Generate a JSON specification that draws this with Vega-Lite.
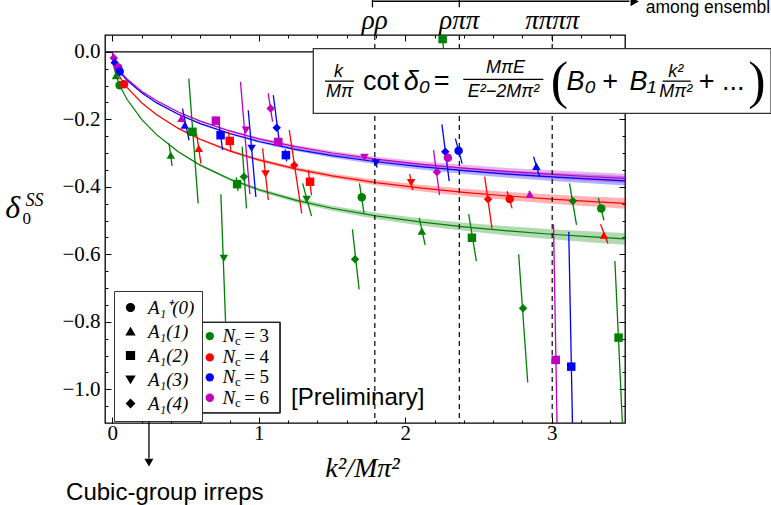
{
  "$schema": "https://vega.github.io/schema/vega-lite/v6.json",
  "width": 520,
  "height": 388,
  "autosize": "none",
  "padding": {"left": 105, "top": 35, "right": 146, "bottom": 82},
  "background": "white",
  "config": {
    "view": {"stroke": "black", "strokeWidth": 1.3},
    "axis": {"grid": false, "domain": false, "tickColor": "black", "tickWidth": 1, "labelColor": "black"}
  },
  "datasets": {
    "pts": [
      {"Nc":6,"irrep":"A₁(4)","x":0.01,"y":-0.018,"xa":0.008,"ya":-0.01,"xb":0.012,"yb":-0.026},
      {"Nc":5,"irrep":"A₁(4)","x":0.016,"y":-0.032,"xa":0.013,"ya":-0.022,"xb":0.019,"yb":-0.042},
      {"Nc":6,"irrep":"A₁⁺(0)","x":0.04,"y":-0.046,"xa":0.038,"ya":-0.04,"xb":0.042,"yb":-0.052},
      {"Nc":5,"irrep":"A₁⁺(0)","x":0.05,"y":-0.058,"xa":0.048,"ya":-0.052,"xb":0.052,"yb":-0.064},
      {"Nc":3,"irrep":"A₁(1)","x":0.025,"y":-0.07,"xa":0.022,"ya":-0.06,"xb":0.028,"yb":-0.08},
      {"Nc":3,"irrep":"A₁⁺(0)","x":0.05,"y":-0.099,"xa":0.048,"ya":-0.093,"xb":0.052,"yb":-0.105},
      {"Nc":4,"irrep":"A₁⁺(0)","x":0.08,"y":-0.096,"xa":0.078,"ya":-0.09,"xb":0.082,"yb":-0.102},
      {"Nc":6,"irrep":"A₁(1)","x":0.472,"y":-0.197,"xa":0.465,"ya":-0.185,"xb":0.479,"yb":-0.209},
      {"Nc":5,"irrep":"A₁(1)","x":0.495,"y":-0.217,"xa":0.479,"ya":-0.168,"xb":0.524,"yb":-0.262},
      {"Nc":3,"irrep":"A₁(2)","x":0.547,"y":-0.237,"xa":0.522,"ya":-0.079,"xb":0.586,"yb":-0.449},
      {"Nc":4,"irrep":"A₁(1)","x":0.59,"y":-0.286,"xa":0.575,"ya":-0.242,"xb":0.605,"yb":-0.331},
      {"Nc":3,"irrep":"A₁(1)","x":0.399,"y":-0.306,"xa":0.387,"ya":-0.271,"xb":0.408,"yb":-0.338},
      {"Nc":6,"irrep":"A₁(2)","x":0.707,"y":-0.204,"xa":0.702,"ya":-0.192,"xb":0.712,"yb":-0.216},
      {"Nc":5,"irrep":"A₁(2)","x":0.739,"y":-0.247,"xa":0.728,"ya":-0.212,"xb":0.753,"yb":-0.291},
      {"Nc":4,"irrep":"A₁(2)","x":0.802,"y":-0.264,"xa":0.793,"ya":-0.237,"xb":0.811,"yb":-0.296},
      {"Nc":3,"irrep":"A₁(2)","x":0.852,"y":-0.392,"xa":0.846,"ya":-0.372,"xb":0.858,"yb":-0.412},
      {"Nc":3,"irrep":"A₁(4)","x":0.898,"y":-0.37,"xa":0.886,"ya":-0.281,"xb":0.916,"yb":-0.464},
      {"Nc":3,"irrep":"A₁(3)","x":0.761,"y":-0.612,"xa":0.741,"ya":-0.422,"xb":0.773,"yb":-0.8},
      {"Nc":6,"irrep":"A₁(3)","x":0.912,"y":-0.232,"xa":0.875,"ya":-0.089,"xb":0.939,"yb":-0.422},
      {"Nc":5,"irrep":"A₁(3)","x":0.951,"y":-0.286,"xa":0.928,"ya":-0.173,"xb":0.98,"yb":-0.43},
      {"Nc":4,"irrep":"A₁(3)","x":1.046,"y":-0.362,"xa":1.026,"ya":-0.286,"xb":1.065,"yb":-0.439},
      {"Nc":6,"irrep":"A₁(4)","x":1.081,"y":-0.168,"xa":1.064,"ya":-0.123,"xb":1.094,"yb":-0.207},
      {"Nc":5,"irrep":"A₁(4)","x":1.122,"y":-0.225,"xa":1.099,"ya":-0.128,"xb":1.14,"yb":-0.267},
      {"Nc":6,"irrep":"A₁(2)","x":1.133,"y":-0.267,"xa":1.128,"ya":-0.255,"xb":1.138,"yb":-0.279},
      {"Nc":5,"irrep":"A₁(2)","x":1.185,"y":-0.306,"xa":1.18,"ya":-0.289,"xb":1.19,"yb":-0.325},
      {"Nc":4,"irrep":"A₁(4)","x":1.242,"y":-0.336,"xa":1.208,"ya":-0.232,"xb":1.293,"yb":-0.479},
      {"Nc":3,"irrep":"A₁(3)","x":1.327,"y":-0.437,"xa":1.299,"ya":-0.39,"xb":1.36,"yb":-0.487},
      {"Nc":4,"irrep":"A₁(2)","x":1.35,"y":-0.385,"xa":1.338,"ya":-0.351,"xb":1.36,"yb":-0.425},
      {"Nc":6,"irrep":"A₁(3)","x":1.721,"y":-0.313,"xa":1.716,"ya":-0.303,"xb":1.726,"yb":-0.323},
      {"Nc":5,"irrep":"A₁(3)","x":1.8,"y":-0.329,"xa":1.793,"ya":-0.315,"xb":1.807,"yb":-0.343},
      {"Nc":3,"irrep":"A₁⁺(0)","x":1.703,"y":-0.431,"xa":1.687,"ya":-0.39,"xb":1.718,"yb":-0.477},
      {"Nc":3,"irrep":"A₁(4)","x":1.657,"y":-0.615,"xa":1.639,"ya":-0.526,"xb":1.685,"yb":-0.704},
      {"Nc":4,"irrep":"A₁(3)","x":2.04,"y":-0.388,"xa":2.03,"ya":-0.362,"xb":2.05,"yb":-0.41},
      {"Nc":6,"irrep":"A₁(4)","x":2.216,"y":-0.356,"xa":2.193,"ya":-0.291,"xb":2.234,"yb":-0.425},
      {"Nc":5,"irrep":"A₁(4)","x":2.273,"y":-0.296,"xa":2.25,"ya":-0.215,"xb":2.3,"yb":-0.383},
      {"Nc":6,"irrep":"A₁⁺(0)","x":2.291,"y":-0.314,"xa":2.287,"ya":-0.304,"xb":2.295,"yb":-0.324},
      {"Nc":3,"irrep":"A₁(2)","x":2.255,"y":0.038,"xa":2.245,"ya":0.1,"xb":2.268,"yb":-0.03},
      {"Nc":5,"irrep":"A₁⁺(0)","x":2.364,"y":-0.293,"xa":2.342,"ya":-0.257,"xb":2.388,"yb":-0.331},
      {"Nc":5,"irrep":"A₁(1)","x":2.895,"y":-0.339,"xa":2.876,"ya":-0.311,"xb":2.917,"yb":-0.37},
      {"Nc":4,"irrep":"A₁(4)","x":2.565,"y":-0.437,"xa":2.542,"ya":-0.37,"xb":2.592,"yb":-0.523},
      {"Nc":4,"irrep":"A₁⁺(0)","x":2.713,"y":-0.436,"xa":2.695,"ya":-0.413,"xb":2.729,"yb":-0.464},
      {"Nc":6,"irrep":"A₁(1)","x":2.85,"y":-0.422,"xa":2.846,"ya":-0.412,"xb":2.854,"yb":-0.432},
      {"Nc":3,"irrep":"A₁(4)","x":3.144,"y":-0.442,"xa":3.121,"ya":-0.39,"xb":3.169,"yb":-0.513},
      {"Nc":3,"irrep":"A₁⁺(0)","x":3.338,"y":-0.464,"xa":3.318,"ya":-0.433,"xb":3.356,"yb":-0.499},
      {"Nc":3,"irrep":"A₁(2)","x":2.455,"y":-0.551,"xa":2.433,"ya":-0.481,"xb":2.485,"yb":-0.62},
      {"Nc":4,"irrep":"A₁(1)","x":3.356,"y":-0.543,"xa":3.333,"ya":-0.511,"xb":3.383,"yb":-0.568},
      {"Nc":3,"irrep":"A₁(1)","x":2.113,"y":-0.531,"xa":2.095,"ya":-0.492,"xb":2.136,"yb":-0.573},
      {"Nc":3,"irrep":"A₁(4)","x":2.804,"y":-0.76,"xa":2.774,"ya":-0.6,"xb":2.836,"yb":-0.98},
      {"Nc":6,"irrep":"A₁(2)","x":3.027,"y":-0.913,"xa":3.012,"ya":-0.511,"xb":3.045,"yb":-1.32},
      {"Nc":5,"irrep":"A₁(2)","x":3.133,"y":-0.933,"xa":3.116,"ya":-0.533,"xb":3.152,"yb":-1.34},
      {"Nc":3,"irrep":"A₁(2)","x":3.456,"y":-0.847,"xa":3.431,"ya":-0.62,"xb":3.482,"yb":-1.1}
    ],
    "fit": [
      {"Nc":3,"x":0,"y":0,"lo":0,"hi":0},
      {"Nc":3,"x":0.01,"y":-0.0436,"lo":-0.0437,"hi":-0.0435},
      {"Nc":3,"x":0.03,"y":-0.0759,"lo":-0.0761,"hi":-0.0757},
      {"Nc":3,"x":0.06,"y":-0.1081,"lo":-0.1084,"hi":-0.1078},
      {"Nc":3,"x":0.1,"y":-0.1404,"lo":-0.1409,"hi":-0.1399},
      {"Nc":3,"x":0.2,"y":-0.2,"lo":-0.201,"hi":-0.199},
      {"Nc":3,"x":0.3,"y":-0.2445,"lo":-0.246,"hi":-0.243},
      {"Nc":3,"x":0.45,"y":-0.296,"lo":-0.2983,"hi":-0.2937},
      {"Nc":3,"x":0.6,"y":-0.3358,"lo":-0.3388,"hi":-0.3328},
      {"Nc":3,"x":0.8,"y":-0.3769,"lo":-0.3809,"hi":-0.3729},
      {"Nc":3,"x":1.0,"y":-0.4086,"lo":-0.4136,"hi":-0.4036},
      {"Nc":3,"x":1.25,"y":-0.4393,"lo":-0.4456,"hi":-0.433},
      {"Nc":3,"x":1.5,"y":-0.4634,"lo":-0.4709,"hi":-0.4559},
      {"Nc":3,"x":1.8,"y":-0.4861,"lo":-0.4951,"hi":-0.4771},
      {"Nc":3,"x":2.1,"y":-0.5039,"lo":-0.5144,"hi":-0.4934},
      {"Nc":3,"x":2.4,"y":-0.5185,"lo":-0.5305,"hi":-0.5065},
      {"Nc":3,"x":2.7,"y":-0.5305,"lo":-0.544,"hi":-0.517},
      {"Nc":3,"x":3.0,"y":-0.5405,"lo":-0.5555,"hi":-0.5255},
      {"Nc":3,"x":3.25,"y":-0.5478,"lo":-0.564,"hi":-0.5316},
      {"Nc":3,"x":3.5,"y":-0.5542,"lo":-0.5717,"hi":-0.5367},
      {"Nc":4,"x":0,"y":0,"lo":0,"hi":0},
      {"Nc":4,"x":0.01,"y":-0.0324,"lo":-0.0325,"hi":-0.0323},
      {"Nc":4,"x":0.03,"y":-0.0565,"lo":-0.0566,"hi":-0.0564},
      {"Nc":4,"x":0.06,"y":-0.0806,"lo":-0.0809,"hi":-0.0803},
      {"Nc":4,"x":0.1,"y":-0.1051,"lo":-0.1056,"hi":-0.1047},
      {"Nc":4,"x":0.2,"y":-0.1509,"lo":-0.1518,"hi":-0.15},
      {"Nc":4,"x":0.3,"y":-0.1857,"lo":-0.1871,"hi":-0.1844},
      {"Nc":4,"x":0.45,"y":-0.2268,"lo":-0.2288,"hi":-0.2248},
      {"Nc":4,"x":0.6,"y":-0.2592,"lo":-0.2619,"hi":-0.2565},
      {"Nc":4,"x":0.8,"y":-0.2933,"lo":-0.2969,"hi":-0.2897},
      {"Nc":4,"x":1.0,"y":-0.3201,"lo":-0.3246,"hi":-0.3156},
      {"Nc":4,"x":1.25,"y":-0.3466,"lo":-0.3522,"hi":-0.341},
      {"Nc":4,"x":1.5,"y":-0.3674,"lo":-0.3742,"hi":-0.3607},
      {"Nc":4,"x":1.8,"y":-0.3874,"lo":-0.3955,"hi":-0.3793},
      {"Nc":4,"x":2.1,"y":-0.4033,"lo":-0.4128,"hi":-0.3939},
      {"Nc":4,"x":2.4,"y":-0.4163,"lo":-0.4271,"hi":-0.4055},
      {"Nc":4,"x":2.7,"y":-0.4272,"lo":-0.4394,"hi":-0.4151},
      {"Nc":4,"x":3.0,"y":-0.4364,"lo":-0.4499,"hi":-0.4229},
      {"Nc":4,"x":3.25,"y":-0.443,"lo":-0.4576,"hi":-0.4284},
      {"Nc":4,"x":3.5,"y":-0.4489,"lo":-0.4647,"hi":-0.4332},
      {"Nc":5,"x":0,"y":0,"lo":0,"hi":0},
      {"Nc":5,"x":0.01,"y":-0.0258,"lo":-0.0259,"hi":-0.0257},
      {"Nc":5,"x":0.03,"y":-0.045,"lo":-0.0451,"hi":-0.0449},
      {"Nc":5,"x":0.06,"y":-0.0643,"lo":-0.0645,"hi":-0.0641},
      {"Nc":5,"x":0.1,"y":-0.0841,"lo":-0.0845,"hi":-0.0837},
      {"Nc":5,"x":0.2,"y":-0.1215,"lo":-0.1223,"hi":-0.1207},
      {"Nc":5,"x":0.3,"y":-0.1505,"lo":-0.1517,"hi":-0.1493},
      {"Nc":5,"x":0.45,"y":-0.1851,"lo":-0.1869,"hi":-0.1833},
      {"Nc":5,"x":0.6,"y":-0.2126,"lo":-0.215,"hi":-0.2102},
      {"Nc":5,"x":0.8,"y":-0.242,"lo":-0.2452,"hi":-0.2388},
      {"Nc":5,"x":1.0,"y":-0.2656,"lo":-0.2696,"hi":-0.2616},
      {"Nc":5,"x":1.25,"y":-0.289,"lo":-0.294,"hi":-0.284},
      {"Nc":5,"x":1.5,"y":-0.3077,"lo":-0.3137,"hi":-0.3017},
      {"Nc":5,"x":1.8,"y":-0.3257,"lo":-0.3329,"hi":-0.3185},
      {"Nc":5,"x":2.1,"y":-0.3402,"lo":-0.3486,"hi":-0.3318},
      {"Nc":5,"x":2.4,"y":-0.3522,"lo":-0.3618,"hi":-0.3426},
      {"Nc":5,"x":2.7,"y":-0.3622,"lo":-0.373,"hi":-0.3514},
      {"Nc":5,"x":3.0,"y":-0.3706,"lo":-0.3826,"hi":-0.3586},
      {"Nc":5,"x":3.25,"y":-0.3767,"lo":-0.3897,"hi":-0.3637},
      {"Nc":5,"x":3.5,"y":-0.3821,"lo":-0.3961,"hi":-0.3681},
      {"Nc":6,"x":0,"y":0,"lo":0,"hi":0},
      {"Nc":6,"x":0.01,"y":-0.0245,"lo":-0.0246,"hi":-0.0244},
      {"Nc":6,"x":0.03,"y":-0.0429,"lo":-0.043,"hi":-0.0428},
      {"Nc":6,"x":0.06,"y":-0.0613,"lo":-0.0615,"hi":-0.0611},
      {"Nc":6,"x":0.1,"y":-0.0803,"lo":-0.0807,"hi":-0.0799},
      {"Nc":6,"x":0.2,"y":-0.1164,"lo":-0.1172,"hi":-0.1156},
      {"Nc":6,"x":0.3,"y":-0.1444,"lo":-0.1456,"hi":-0.1432},
      {"Nc":6,"x":0.45,"y":-0.1782,"lo":-0.18,"hi":-0.1764},
      {"Nc":6,"x":0.6,"y":-0.2053,"lo":-0.2077,"hi":-0.2029},
      {"Nc":6,"x":0.8,"y":-0.2344,"lo":-0.2376,"hi":-0.2312},
      {"Nc":6,"x":1.0,"y":-0.2577,"lo":-0.2617,"hi":-0.2537},
      {"Nc":6,"x":1.25,"y":-0.2811,"lo":-0.2861,"hi":-0.2761},
      {"Nc":6,"x":1.5,"y":-0.2998,"lo":-0.3058,"hi":-0.2938},
      {"Nc":6,"x":1.8,"y":-0.3178,"lo":-0.325,"hi":-0.3106},
      {"Nc":6,"x":2.1,"y":-0.3325,"lo":-0.3409,"hi":-0.3241},
      {"Nc":6,"x":2.4,"y":-0.3445,"lo":-0.3541,"hi":-0.3349},
      {"Nc":6,"x":2.7,"y":-0.3547,"lo":-0.3655,"hi":-0.3439},
      {"Nc":6,"x":3.0,"y":-0.3632,"lo":-0.3752,"hi":-0.3512},
      {"Nc":6,"x":3.25,"y":-0.3694,"lo":-0.3824,"hi":-0.3564},
      {"Nc":6,"x":3.5,"y":-0.3749,"lo":-0.3889,"hi":-0.3609}
    ],
    "thr": [
      {"x": 1.792, "ly": 0.091, "lab": "ρρ"},
      {"x": 2.369, "ly": 0.091, "lab": "ρππ"},
      {"x": 3.003, "ly": 0.091, "lab": "ππππ"}
    ],
    "nclegend": [
      {"Nc": 3, "x": 0.6655, "y": -0.8424, "xn": 0.7524, "xc": 0.838, "yc": -0.8572, "xe": 0.9, "eq": "= 3"},
      {"Nc": 4, "x": 0.6655, "y": -0.9055, "xn": 0.7524, "xc": 0.838, "yc": -0.9203, "xe": 0.9, "eq": "= 4"},
      {"Nc": 5, "x": 0.6655, "y": -0.9647, "xn": 0.7524, "xc": 0.838, "yc": -0.9795, "xe": 0.9, "eq": "= 5"},
      {"Nc": 6, "x": 0.6655, "y": -1.0252, "xn": 0.7524, "xc": 0.838, "yc": -1.04, "xe": 0.9, "eq": "= 6"}
    ],
    "segs": [
      {"x": 1.452, "x2": 1.65, "y": -0.0868, "y2": -0.0868},
      {"x": 2.396, "x2": 2.943, "y": -0.0818, "y2": -0.0818},
      {"x": 3.757, "x2": 3.949, "y": -0.0868, "y2": -0.0868},
      {"x": 1.776, "x2": 3.53, "y": 0.15, "y2": 0.15},
      {"x": 1.776, "x2": 1.776, "y": 0.16, "y2": 0.132},
      {"x": 2.369, "x2": 2.369, "y": 0.16, "y2": 0.132},
      {"x": 0.25, "x2": 0.25, "y": -1.0735, "y2": -1.205}
    ],
    "ncframe": [
      {"x": 0.59, "x2": 1.145, "y": -0.8018, "y2": -0.8018},
      {"x": 0.59, "x2": 1.145, "y": -1.07, "y2": -1.07},
      {"x": 0.59, "x2": 0.59, "y": -0.8018, "y2": -1.07},
      {"x": 1.145, "x2": 1.145, "y": -0.8018, "y2": -1.07}
    ]
  },
  "resolve": {"axis": {"x": "independent", "y": "independent"}},
  "layer": [
    {
      "data": {"name": "fit"},
      "mark": {"type": "area", "clip": true, "opacity": 0.3},
      "encoding": {
        "x": {"field": "x", "type": "quantitative", "scale": {"domain": [-0.05, 3.5], "nice": false, "zero": false},
              "axis": {"orient": "bottom", "values": [0, 1, 2, 3], "format": "d", "tickSize": -6, "labelPadding": 16, "labelBaseline": "middle",
                       "labelFont": "Liberation Serif", "labelFontSize": 21, "title": "k²/Mπ²", "titleFont": "Liberation Serif", "titleFontStyle": "italic",
                       "titleFontWeight": "normal", "titleFontSize": 28, "titleColor": "black", "titleBaseline": "middle", "titleX": 257, "titleY": 45}},
        "y": {"field": "lo", "type": "quantitative", "scale": {"domain": [-1.1, 0.05], "nice": false, "zero": false},
              "axis": {"orient": "left", "values": [0, -0.2, -0.4, -0.6, -0.8, -1.0], "format": ".1f", "tickSize": -6, "labelPadding": 11,
                       "labelFont": "Liberation Serif", "labelFontSize": 21, "title": null}},
        "y2": {"field": "hi"},
        "color": {"field": "Nc", "type": "nominal", "scale": {"domain": [3, 4, 5, 6], "range": ["#008000", "#ff0000", "#0000ff", "#bf00bf"]}, "legend": null}
      }
    },
    {
      "data": {"name": "fit"},
      "mark": {"type": "line", "clip": true, "strokeWidth": 1.2},
      "encoding": {
        "x": {"field": "x", "type": "quantitative", "scale": {"domain": [-0.05, 3.5], "nice": false, "zero": false},
              "axis": {"orient": "bottom", "values": [0.2,0.4,0.6,0.8,1.2,1.4,1.6,1.8,2.2,2.4,2.6,2.8,3.2,3.4], "tickSize": -3, "labels": false, "title": null}},
        "y": {"field": "y", "type": "quantitative", "scale": {"domain": [-1.1, 0.05], "nice": false, "zero": false},
              "axis": {"orient": "left", "values": [-0.05,-0.1,-0.15,-0.25,-0.3,-0.35,-0.45,-0.5,-0.55,-0.65,-0.7,-0.75,-0.85,-0.9,-0.95,-1.05], "tickSize": -3, "labels": false, "title": null}},
        "color": {"field": "Nc", "type": "nominal", "scale": {"domain": [3, 4, 5, 6], "range": ["#008000", "#ff0000", "#0000ff", "#bf00bf"]}, "legend": null}
      }
    },
    {
      "data": {"name": "thr"},
      "mark": {"type": "rule", "color": "black", "strokeWidth": 1.2, "strokeDash": [5, 4]},
      "encoding": {
        "x": {"field": "x", "type": "quantitative", "scale": {"domain": [-0.05, 3.5], "nice": false, "zero": false}, "axis": null}
      }
    },
    {
      "data": {"values": [{"y": 0}]},
      "mark": {"type": "rule", "color": "black", "strokeWidth": 1.2},
      "encoding": {
        "y": {"field": "y", "type": "quantitative", "scale": {"domain": [-1.1, 0.05], "nice": false, "zero": false}, "axis": null}
      }
    },
    {
      "data": {"name": "pts"},
      "mark": {"type": "rule", "clip": true, "strokeWidth": 1.3},
      "encoding": {
        "x": {"field": "xa", "type": "quantitative", "scale": {"domain": [-0.05, 3.5], "nice": false, "zero": false},
              "axis": {"orient": "top", "values": [0, 1, 2, 3], "tickSize": -6, "labels": false, "title": null}},
        "y": {"field": "ya", "type": "quantitative", "scale": {"domain": [-1.1, 0.05], "nice": false, "zero": false},
              "axis": {"orient": "right", "values": [0, -0.2, -0.4, -0.6, -0.8, -1.0], "tickSize": -6, "labels": false, "title": null}},
        "x2": {"field": "xb"},
        "y2": {"field": "yb"},
        "color": {"field": "Nc", "type": "nominal", "scale": {"domain": [3, 4, 5, 6], "range": ["#008000", "#ff0000", "#0000ff", "#bf00bf"]}, "legend": null}
      }
    },
    {
      "data": {"name": "pts"},
      "mark": {"type": "point", "filled": true, "opacity": 1, "size": 72, "clip": true},
      "encoding": {
        "x": {"field": "x", "type": "quantitative", "scale": {"domain": [-0.05, 3.5], "nice": false, "zero": false},
              "axis": {"orient": "top", "values": [0.2,0.4,0.6,0.8,1.2,1.4,1.6,1.8,2.2,2.4,2.6,2.8,3.2,3.4], "tickSize": -3, "labels": false, "title": null}},
        "y": {"field": "y", "type": "quantitative", "scale": {"domain": [-1.1, 0.05], "nice": false, "zero": false},
              "axis": {"orient": "right", "values": [-0.05,-0.1,-0.15,-0.25,-0.3,-0.35,-0.45,-0.5,-0.55,-0.65,-0.7,-0.75,-0.85,-0.9,-0.95,-1.05], "tickSize": -3, "labels": false, "title": null}},
        "color": {"field": "Nc", "type": "nominal", "scale": {"domain": [3, 4, 5, 6], "range": ["#008000", "#ff0000", "#0000ff", "#bf00bf"]}, "legend": null},
        "shape": {"field": "irrep", "type": "nominal", "scale": {"domain": ["A₁⁺(0)", "A₁(1)", "A₁(2)", "A₁(3)", "A₁(4)"], "range": ["circle", "triangle-up", "square", "triangle-down", "diamond"]},
                  "legend": {"orient": "none", "legendX": 9, "legendY": 256, "title": null, "symbolSize": 60, "symbolFillColor": "black", "symbolStrokeColor": "black",
                             "labelFont": "Liberation Serif", "labelFontStyle": "italic", "labelFontSize": 19, "labelColor": "black",
                             "fillColor": "white", "strokeColor": "#333", "padding": 7, "rowPadding": 4, "labelOffset": 8}}
      }
    },
    {
      "data": {"values": [{"x": 1.372, "x2": 4.497, "y": 0.0095, "y2": -0.1825}]},
      "mark": {"type": "rect", "fill": "white", "stroke": "#333", "strokeWidth": 1.3},
      "encoding": {
        "x": {"field": "x", "type": "quantitative", "scale": {"domain": [-0.05, 3.5], "nice": false, "zero": false}, "axis": null},
        "x2": {"field": "x2"},
        "y": {"field": "y", "type": "quantitative", "scale": {"domain": [-1.1, 0.05], "nice": false, "zero": false}, "axis": null},
        "y2": {"field": "y2"}
      }
    },
    {
      "data": {"name": "segs"},
      "mark": {"type": "rule", "color": "black", "strokeWidth": 1.3},
      "encoding": {
        "x": {"field": "x", "type": "quantitative", "scale": {"domain": [-0.05, 3.5], "nice": false, "zero": false}, "axis": null},
        "x2": {"field": "x2"},
        "y": {"field": "y", "type": "quantitative", "scale": {"domain": [-1.1, 0.05], "nice": false, "zero": false}, "axis": null},
        "y2": {"field": "y2"}
      }
    },
    {
      "data": {"values": [
        {"x": 1.5445, "y": -0.0587, "t": "k"},
        {"x": 1.551, "y": -0.1194, "t": "Mπ"},
        {"x": 2.684, "y": -0.0483, "t": "MπE"},
        {"x": 2.67, "y": -0.1194, "t": "E²−2Mπ²"},
        {"x": 3.846, "y": -0.0598, "t": "k²"},
        {"x": 3.846, "y": -0.1194, "t": "Mπ²"}
      ]},
      "mark": {"type": "text", "font": "Liberation Sans", "fontStyle": "italic", "fontSize": 18, "align": "center", "baseline": "middle", "color": "black"},
      "encoding": {
        "x": {"field": "x", "type": "quantitative", "scale": {"domain": [-0.05, 3.5], "nice": false, "zero": false}, "axis": null},
        "y": {"field": "y", "type": "quantitative", "scale": {"domain": [-1.1, 0.05], "nice": false, "zero": false}, "axis": null},
        "text": {"field": "t"}
      }
    },
    {
      "data": {"values": [
        {"x": 1.712, "y": -0.0898, "t": "cot"},
        {"x": 4.004, "y": -0.0898, "t": "+ ..."}
      ]},
      "mark": {"type": "text", "font": "Liberation Sans", "fontSize": 27, "align": "left", "baseline": "middle", "color": "black"},
      "encoding": {
        "x": {"field": "x", "type": "quantitative", "scale": {"domain": [-0.05, 3.5], "nice": false, "zero": false}, "axis": null},
        "y": {"field": "y", "type": "quantitative", "scale": {"domain": [-1.1, 0.05], "nice": false, "zero": false}, "axis": null},
        "text": {"field": "t"}
      }
    },
    {
      "data": {"values": [
        {"x": 2.249, "y": -0.0898, "t": "="},
        {"x": 3.398, "y": -0.0898, "t": "+"}
      ]},
      "mark": {"type": "text", "font": "Liberation Sans", "fontSize": 27, "align": "center", "baseline": "middle", "color": "black"},
      "encoding": {
        "x": {"field": "x", "type": "quantitative", "scale": {"domain": [-0.05, 3.5], "nice": false, "zero": false}, "axis": null},
        "y": {"field": "y", "type": "quantitative", "scale": {"domain": [-1.1, 0.05], "nice": false, "zero": false}, "axis": null},
        "text": {"field": "t"}
      }
    },
    {
      "data": {"values": [
        {"x": 1.99, "y": -0.0898, "t": "δ₀"},
        {"x": 3.1, "y": -0.0898, "t": "B₀"},
        {"x": 3.53, "y": -0.0898, "t": "B₁"}
      ]},
      "mark": {"type": "text", "font": "Liberation Sans", "fontStyle": "italic", "fontSize": 27, "align": "left", "baseline": "middle", "color": "black"},
      "encoding": {
        "x": {"field": "x", "type": "quantitative", "scale": {"domain": [-0.05, 3.5], "nice": false, "zero": false}, "axis": null},
        "y": {"field": "y", "type": "quantitative", "scale": {"domain": [-1.1, 0.05], "nice": false, "zero": false}, "axis": null},
        "text": {"field": "t"}
      }
    },
    {
      "data": {"values": [
        {"x": 3.053, "y": -0.0898, "t": "("},
        {"x": 4.4, "y": -0.0898, "t": ")"}
      ]},
      "mark": {"type": "text", "font": "Liberation Serif", "fontSize": 52, "align": "center", "baseline": "middle", "color": "black"},
      "encoding": {
        "x": {"field": "x", "type": "quantitative", "scale": {"domain": [-0.05, 3.5], "nice": false, "zero": false}, "axis": null},
        "y": {"field": "y", "type": "quantitative", "scale": {"domain": [-1.1, 0.05], "nice": false, "zero": false}, "axis": null},
        "text": {"field": "t"}
      }
    },
    {
      "data": {"values": [{"x": 3.566, "y": 0.149}]},
      "mark": {"type": "point", "shape": "triangle-right", "filled": true, "color": "black", "opacity": 1, "size": 90},
      "encoding": {
        "x": {"field": "x", "type": "quantitative", "scale": {"domain": [-0.05, 3.5], "nice": false, "zero": false}, "axis": null},
        "y": {"field": "y", "type": "quantitative", "scale": {"domain": [-1.1, 0.05], "nice": false, "zero": false}, "axis": null}
      }
    },
    {
      "data": {"values": [{"x": 0.25, "y": -1.2175}]},
      "mark": {"type": "point", "shape": "triangle-down", "filled": true, "color": "black", "opacity": 1, "size": 80},
      "encoding": {
        "x": {"field": "x", "type": "quantitative", "scale": {"domain": [-0.05, 3.5], "nice": false, "zero": false}, "axis": null},
        "y": {"field": "y", "type": "quantitative", "scale": {"domain": [-1.1, 0.05], "nice": false, "zero": false}, "axis": null}
      }
    },
    {
      "data": {"name": "thr"},
      "mark": {"type": "text", "font": "Liberation Serif", "fontStyle": "italic", "fontSize": 27, "align": "center", "baseline": "middle", "color": "black"},
      "encoding": {
        "x": {"field": "x", "type": "quantitative", "scale": {"domain": [-0.05, 3.5], "nice": false, "zero": false}, "axis": null},
        "y": {"field": "ly", "type": "quantitative", "scale": {"domain": [-1.1, 0.05], "nice": false, "zero": false}, "axis": null},
        "text": {"field": "lab"}
      }
    },
    {
      "data": {"values": [
        {"x": 1.22, "y": -1.027, "t": "[Preliminary]", "s": 24},
        {"x": 3.641, "y": 0.1286, "t": "among ensembles", "s": 17.5}
      ]},
      "mark": {"type": "text", "font": "Liberation Sans", "align": "left", "baseline": "middle", "color": "black"},
      "encoding": {
        "x": {"field": "x", "type": "quantitative", "scale": {"domain": [-0.05, 3.5], "nice": false, "zero": false}, "axis": null},
        "y": {"field": "y", "type": "quantitative", "scale": {"domain": [-1.1, 0.05], "nice": false, "zero": false}, "axis": null},
        "text": {"field": "t"},
        "size": {"field": "s", "type": "quantitative", "scale": null}
      }
    },
    {
      "data": {"values": [{"x": 0.358, "y": -1.308, "t": "Cubic-group irreps"}]},
      "mark": {"type": "text", "font": "Liberation Sans", "fontSize": 24, "align": "center", "baseline": "middle", "color": "black"},
      "encoding": {
        "x": {"field": "x", "type": "quantitative", "scale": {"domain": [-0.05, 3.5], "nice": false, "zero": false}, "axis": null},
        "y": {"field": "y", "type": "quantitative", "scale": {"domain": [-1.1, 0.05], "nice": false, "zero": false}, "axis": null},
        "text": {"field": "t"}
      }
    },
    {
      "data": {"values": [
        {"x": -0.68, "y": -0.462, "t": "δ", "s": 32},
        {"x": -0.531, "y": -0.443, "t": "SS", "s": 18}
      ]},
      "mark": {"type": "text", "font": "Liberation Serif", "fontStyle": "italic", "align": "center", "baseline": "middle", "color": "black"},
      "encoding": {
        "x": {"field": "x", "type": "quantitative", "scale": {"domain": [-0.05, 3.5], "nice": false, "zero": false}, "axis": null},
        "y": {"field": "y", "type": "quantitative", "scale": {"domain": [-1.1, 0.05], "nice": false, "zero": false}, "axis": null},
        "text": {"field": "t"},
        "size": {"field": "s", "type": "quantitative", "scale": null}
      }
    },
    {
      "data": {"values": [{"x": -0.585, "y": -0.495, "t": "0"}]},
      "mark": {"type": "text", "font": "Liberation Serif", "fontSize": 17, "align": "center", "baseline": "middle", "color": "black"},
      "encoding": {
        "x": {"field": "x", "type": "quantitative", "scale": {"domain": [-0.05, 3.5], "nice": false, "zero": false}, "axis": null},
        "y": {"field": "y", "type": "quantitative", "scale": {"domain": [-1.1, 0.05], "nice": false, "zero": false}, "axis": null},
        "text": {"field": "t"}
      }
    },
    {
      "data": {"values": [{"bx": 0.59, "bx2": 1.145, "by": -0.8018, "by2": -1.07}]},
      "mark": {"type": "rect", "fill": "white", "stroke": "#333", "strokeWidth": 1.3},
      "encoding": {
        "x": {"field": "bx", "type": "quantitative", "scale": {"domain": [-0.05, 3.5], "nice": false, "zero": false}, "axis": null},
        "x2": {"field": "bx2"},
        "y": {"field": "by", "type": "quantitative", "scale": {"domain": [-1.1, 0.05], "nice": false, "zero": false}, "axis": null},
        "y2": {"field": "by2"}
      }
    },
    {
      "data": {"name": "ncframe"},
      "mark": {"type": "rule", "color": "#222", "strokeWidth": 1.4},
      "encoding": {
        "x": {"field": "x", "type": "quantitative", "scale": {"domain": [-0.05, 3.5], "nice": false, "zero": false}, "axis": null},
        "x2": {"field": "x2"},
        "y": {"field": "y", "type": "quantitative", "scale": {"domain": [-1.1, 0.05], "nice": false, "zero": false}, "axis": null},
        "y2": {"field": "y2"}
      }
    },
    {
      "data": {"name": "nclegend"},
      "mark": {"type": "point", "shape": "circle", "filled": true, "opacity": 1, "size": 70},
      "encoding": {
        "x": {"field": "x", "type": "quantitative", "scale": {"domain": [-0.05, 3.5], "nice": false, "zero": false}, "axis": null},
        "y": {"field": "y", "type": "quantitative", "scale": {"domain": [-1.1, 0.05], "nice": false, "zero": false}, "axis": null},
        "color": {"field": "Nc", "type": "nominal", "scale": {"domain": [3, 4, 5, 6], "range": ["#008000", "#ff0000", "#0000ff", "#bf00bf"]}, "legend": null}
      }
    },
    {
      "data": {"name": "nclegend"},
      "mark": {"type": "text", "font": "Liberation Serif", "fontStyle": "italic", "fontSize": 19, "align": "left", "baseline": "middle", "color": "black"},
      "encoding": {
        "x": {"field": "xn", "type": "quantitative", "scale": {"domain": [-0.05, 3.5], "nice": false, "zero": false}, "axis": null},
        "y": {"field": "y", "type": "quantitative", "scale": {"domain": [-1.1, 0.05], "nice": false, "zero": false}, "axis": null},
        "text": {"value": "N"}
      }
    },
    {
      "data": {"name": "nclegend"},
      "mark": {"type": "text", "font": "Liberation Serif", "fontSize": 13, "align": "left", "baseline": "middle", "color": "black"},
      "encoding": {
        "x": {"field": "xc", "type": "quantitative", "scale": {"domain": [-0.05, 3.5], "nice": false, "zero": false}, "axis": null},
        "y": {"field": "yc", "type": "quantitative", "scale": {"domain": [-1.1, 0.05], "nice": false, "zero": false}, "axis": null},
        "text": {"value": "c"}
      }
    },
    {
      "data": {"name": "nclegend"},
      "mark": {"type": "text", "font": "Liberation Serif", "fontSize": 19, "align": "left", "baseline": "middle", "color": "black"},
      "encoding": {
        "x": {"field": "xe", "type": "quantitative", "scale": {"domain": [-0.05, 3.5], "nice": false, "zero": false}, "axis": null},
        "y": {"field": "y", "type": "quantitative", "scale": {"domain": [-1.1, 0.05], "nice": false, "zero": false}, "axis": null},
        "text": {"field": "eq"}
      }
    }
  ]
}
